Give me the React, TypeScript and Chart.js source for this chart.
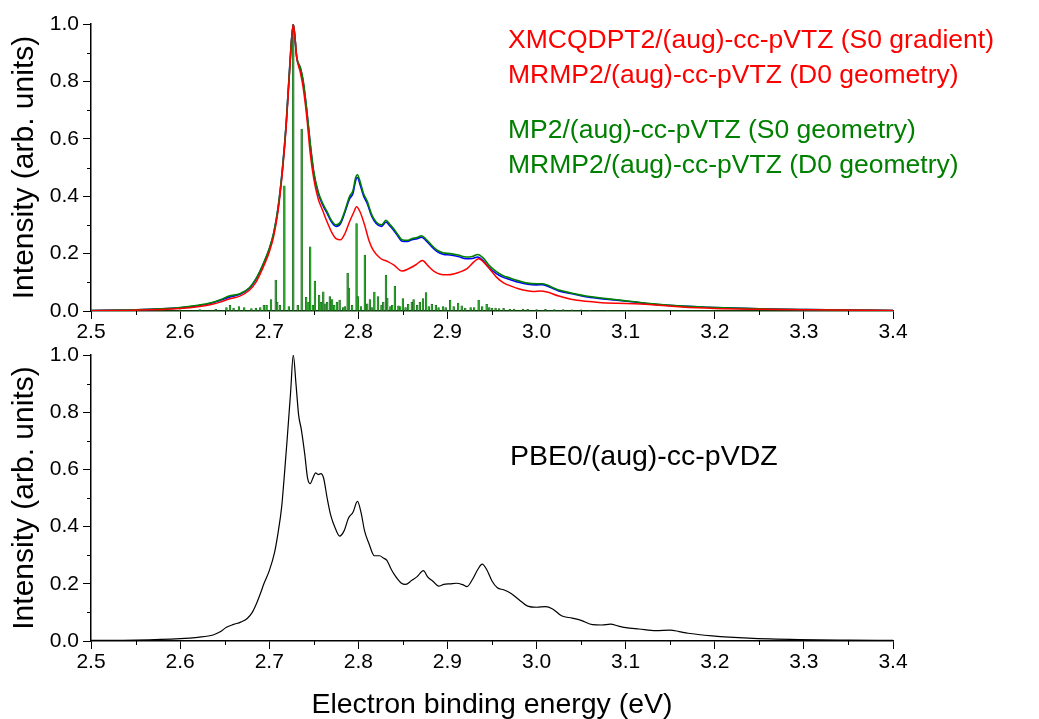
import React, { useEffect, useRef } from "react";
import { Chart, registerables } from "chart.js";

Chart.register(...registerables);

// ---------- data ----------
const X_TICKS = [2.5, 2.6, 2.7, 2.8, 2.9, 3.0, 3.1, 3.2, 3.3, 3.4];
const X_MINOR = [2.55, 2.65, 2.75, 2.85, 2.95, 3.05, 3.15, 3.25, 3.35];
const Y_TICKS = [0.0, 0.2, 0.4, 0.6, 0.8, 1.0];
const Y_MINOR = [0.1, 0.3, 0.5, 0.7, 0.9];

const BLUE_E = [2.5, 2.55, 2.6, 2.62, 2.635, 2.645, 2.655, 2.667, 2.678, 2.685, 2.69, 2.695, 2.7, 2.705, 2.71, 2.715, 2.719, 2.723, 2.727, 2.731, 2.735, 2.738, 2.742, 2.746, 2.75, 2.755, 2.76, 2.765, 2.77, 2.775, 2.78, 2.785, 2.79, 2.794, 2.797, 2.799, 2.802, 2.806, 2.81, 2.815, 2.82, 2.826, 2.831, 2.835, 2.84, 2.845, 2.849, 2.855, 2.86, 2.866, 2.871, 2.876, 2.882, 2.888, 2.895, 2.903, 2.912, 2.921, 2.928, 2.934, 2.94, 2.947, 2.955, 2.962, 2.97, 2.98, 2.99, 3.0, 3.007, 3.015, 3.025, 3.04, 3.055, 3.07, 3.09, 3.107, 3.13, 3.163, 3.19, 3.22, 3.26, 3.3, 3.35, 3.4];
const BLUE_I = [0.002, 0.004, 0.011, 0.018, 0.027, 0.037, 0.048, 0.058, 0.08, 0.11, 0.14, 0.175, 0.215, 0.27, 0.36, 0.5, 0.65, 0.85, 1.0, 0.88, 0.845, 0.8, 0.7, 0.58, 0.48, 0.41, 0.37, 0.34, 0.31, 0.295, 0.305, 0.345, 0.39, 0.41, 0.455, 0.465, 0.44, 0.4, 0.375, 0.33, 0.305, 0.295, 0.31, 0.298, 0.28, 0.258, 0.243, 0.242, 0.248, 0.252, 0.257, 0.245, 0.225, 0.208, 0.198, 0.195, 0.19, 0.182, 0.183, 0.188, 0.175, 0.15, 0.13, 0.118, 0.11, 0.1, 0.093, 0.091, 0.092, 0.083, 0.07, 0.06, 0.05, 0.044, 0.038, 0.032, 0.024, 0.017, 0.013, 0.01, 0.007, 0.005, 0.003, 0.002];

const GREEN_E = [2.5, 2.55, 2.6, 2.62, 2.635, 2.645, 2.655, 2.667, 2.678, 2.685, 2.69, 2.695, 2.7, 2.705, 2.71, 2.715, 2.719, 2.723, 2.727, 2.731, 2.735, 2.738, 2.742, 2.746, 2.75, 2.755, 2.76, 2.765, 2.77, 2.775, 2.78, 2.785, 2.79, 2.794, 2.797, 2.799, 2.802, 2.806, 2.81, 2.815, 2.82, 2.826, 2.831, 2.835, 2.84, 2.845, 2.849, 2.855, 2.86, 2.866, 2.871, 2.876, 2.882, 2.888, 2.895, 2.903, 2.912, 2.921, 2.928, 2.934, 2.94, 2.947, 2.955, 2.962, 2.97, 2.98, 2.99, 3.0, 3.007, 3.015, 3.025, 3.04, 3.055, 3.07, 3.09, 3.107, 3.13, 3.163, 3.19, 3.22, 3.26, 3.3, 3.35, 3.4];
const GREEN_I = [0.002, 0.004, 0.012, 0.02, 0.029, 0.039, 0.052, 0.06, 0.082, 0.112, 0.142, 0.177, 0.217, 0.272, 0.362, 0.502, 0.652, 0.852, 1.0, 0.882, 0.848, 0.805, 0.705, 0.585, 0.485, 0.415, 0.375, 0.345, 0.315, 0.3, 0.31, 0.35, 0.398, 0.42, 0.465, 0.475, 0.45, 0.408, 0.382, 0.336, 0.31, 0.3, 0.316, 0.303, 0.285, 0.263, 0.248, 0.246, 0.252, 0.256, 0.262, 0.25, 0.23, 0.213, 0.203, 0.2, 0.195, 0.188, 0.19, 0.197, 0.185, 0.158, 0.137, 0.124, 0.115, 0.105, 0.097, 0.095, 0.095, 0.086, 0.073, 0.062, 0.052, 0.046, 0.039, 0.033, 0.025, 0.017, 0.013, 0.01, 0.007, 0.005, 0.003, 0.002];

const RED_E = [2.5, 2.55, 2.6, 2.62, 2.635, 2.645, 2.655, 2.667, 2.678, 2.685, 2.69, 2.695, 2.7, 2.705, 2.71, 2.715, 2.719, 2.723, 2.727, 2.731, 2.735, 2.738, 2.742, 2.746, 2.75, 2.755, 2.76, 2.765, 2.77, 2.775, 2.78, 2.785, 2.79, 2.795, 2.798, 2.802, 2.807, 2.812, 2.817, 2.825, 2.833, 2.84, 2.849, 2.857, 2.865, 2.872, 2.878, 2.885, 2.892, 2.9, 2.908, 2.915, 2.922, 2.93, 2.935, 2.94, 2.947, 2.955, 2.963, 2.973, 2.985, 2.996, 3.005, 3.012, 3.025, 3.04, 3.055, 3.07, 3.09, 3.11, 3.13, 3.163, 3.2, 3.25, 3.3, 3.4];
const RED_I = [0.001, 0.003, 0.009, 0.015, 0.023, 0.031, 0.042, 0.052, 0.073, 0.1, 0.13, 0.165, 0.205, 0.26, 0.35, 0.49, 0.64, 0.84, 1.0, 0.88, 0.83, 0.78, 0.68, 0.55, 0.46, 0.39, 0.35, 0.31, 0.275, 0.252, 0.248, 0.27, 0.31, 0.345, 0.363, 0.345, 0.3, 0.245, 0.21, 0.183, 0.172, 0.16, 0.139, 0.148, 0.162, 0.176, 0.158, 0.138, 0.128, 0.126, 0.13, 0.137, 0.148, 0.172, 0.182, 0.172, 0.148, 0.118, 0.098, 0.085, 0.073, 0.068, 0.07, 0.066, 0.052, 0.04, 0.034, 0.03, 0.027, 0.025, 0.022, 0.014, 0.009, 0.006, 0.004, 0.002];

const STICK_E = [2.6, 2.622, 2.64, 2.652, 2.656, 2.66, 2.666, 2.672, 2.68, 2.685, 2.69, 2.694, 2.697, 2.702, 2.7073, 2.709, 2.712, 2.717, 2.722, 2.727, 2.732, 2.7364, 2.7415, 2.744, 2.746, 2.749, 2.7513, 2.756, 2.758, 2.7607, 2.763, 2.765, 2.768, 2.7705, 2.773, 2.776, 2.779, 2.783, 2.785, 2.788, 2.7895, 2.793, 2.798, 2.7995, 2.803, 2.8073, 2.81, 2.813, 2.815, 2.818, 2.822, 2.826, 2.828, 2.831, 2.8325, 2.836, 2.838, 2.841, 2.845, 2.847, 2.85, 2.853, 2.856, 2.86, 2.862, 2.866, 2.869, 2.8725, 2.876, 2.879, 2.8825, 2.887, 2.89, 2.895, 2.898, 2.903, 2.907, 2.912, 2.916, 2.92, 2.926, 2.93, 2.935, 2.939, 2.944, 2.947, 2.95, 2.954, 2.958, 2.963, 2.97, 2.975, 2.985, 2.99, 3.0, 3.01, 3.02, 3.03, 3.04, 3.05, 3.06, 3.08, 3.1];
const STICK_I = [0.004, 0.005, 0.006, 0.012, 0.02, 0.01, 0.015, 0.012, 0.008, 0.01, 0.012, 0.02, 0.02, 0.04, 0.108, 0.03, 0.02, 0.436, 0.015, 0.99, 0.02, 0.634, 0.048, 0.03, 0.224, 0.02, 0.104, 0.055, 0.03, 0.067, 0.025, 0.03, 0.05, 0.04, 0.02, 0.03, 0.038, 0.012, 0.015, 0.131, 0.08, 0.02, 0.305, 0.05, 0.015, 0.195, 0.025, 0.04, 0.012, 0.066, 0.05, 0.02, 0.03, 0.125, 0.045, 0.015, 0.02, 0.086, 0.018, 0.015, 0.043, 0.012, 0.023, 0.03, 0.04, 0.02, 0.03, 0.043, 0.064, 0.015, 0.023, 0.02, 0.012, 0.015, 0.012, 0.037, 0.015, 0.028, 0.018, 0.01, 0.012, 0.012, 0.037, 0.015, 0.023, 0.012, 0.01, 0.01, 0.008, 0.009, 0.006, 0.007, 0.007, 0.006, 0.005, 0.006, 0.005, 0.005, 0.004, 0.004, 0.003, 0.003, 0.002];

const PBE0_E = [2.5, 2.55, 2.6, 2.62, 2.637, 2.645, 2.652, 2.66, 2.668, 2.675, 2.681, 2.686, 2.69, 2.694, 2.7, 2.706, 2.71, 2.714, 2.717, 2.72, 2.724, 2.727, 2.73, 2.733, 2.736, 2.74, 2.743, 2.746, 2.749, 2.752, 2.755, 2.758, 2.761, 2.765, 2.769, 2.774, 2.779, 2.784, 2.789, 2.794, 2.799, 2.803, 2.807, 2.812, 2.818, 2.824, 2.828, 2.832, 2.837, 2.842, 2.848, 2.853, 2.86, 2.866, 2.873, 2.878, 2.884, 2.89, 2.896, 2.903, 2.91, 2.917, 2.922, 2.928, 2.934, 2.939, 2.944, 2.95, 2.956, 2.963, 2.971, 2.98, 2.99, 3.0, 3.01, 3.018, 3.028, 3.04, 3.05, 3.063, 3.073, 3.083, 3.092, 3.1, 3.115, 3.134, 3.15, 3.16, 3.17, 3.197, 3.238, 3.294, 3.35, 3.4];
const PBE0_I = [0.002, 0.003, 0.008, 0.013, 0.021, 0.032, 0.048, 0.058, 0.066, 0.078, 0.1, 0.133, 0.165, 0.2, 0.245, 0.31, 0.38, 0.47, 0.58, 0.7, 0.87, 1.0, 0.9, 0.79, 0.74, 0.65, 0.57, 0.55, 0.57, 0.588, 0.582, 0.585, 0.57, 0.5, 0.44, 0.395, 0.367, 0.385, 0.43, 0.45, 0.488, 0.45, 0.385, 0.34, 0.298, 0.298, 0.29, 0.282, 0.25, 0.225, 0.203, 0.198, 0.212, 0.225, 0.246, 0.223, 0.208, 0.192, 0.198, 0.2, 0.202, 0.197, 0.19, 0.215, 0.25, 0.269, 0.25, 0.21, 0.186, 0.179, 0.167, 0.145, 0.122, 0.118, 0.12, 0.112, 0.088, 0.08, 0.072, 0.057, 0.056, 0.059, 0.052, 0.047, 0.042, 0.036, 0.038, 0.033, 0.027, 0.018, 0.01, 0.005, 0.003, 0.002];

// ---------- styling ----------
const FONT = "'Liberation Sans', Arial, sans-serif";
const W = 1039;
const PLOT_LEFT = 91;
const PLOT_RIGHT = 893;

const pts = (xs: number[], ys: number[]) => xs.map((x, i) => ({ x, y: ys[i] }));

const minorTicks = {
  id: "minorTicks",
  afterDraw(chart: any) {
    const { ctx, scales } = chart;
    const x = scales.x;
    const y = scales.y;
    ctx.save();
    ctx.strokeStyle = "#000";
    ctx.lineWidth = 1;
    ctx.beginPath();
    X_MINOR.forEach((v) => {
      const px = Math.round(x.getPixelForValue(v)) + 0.5;
      ctx.moveTo(px, x.top);
      ctx.lineTo(px, x.top + 4);
    });
    Y_MINOR.forEach((v) => {
      const py = Math.round(y.getPixelForValue(v)) + 0.5;
      ctx.moveTo(y.right, py);
      ctx.lineTo(y.right - 4, py);
    });
    ctx.stroke();
    ctx.restore();
  },
};

function makeOptions(xAxisHeight: number, padTop: number, showXTitle: boolean, xBorderColor: string) {
  return {
    animation: false,
    responsive: false,
    maintainAspectRatio: false,
    layout: { padding: { top: padTop, right: W - PLOT_RIGHT, left: 0, bottom: 0 } },
    plugins: { legend: { display: false }, tooltip: { enabled: false } },
    elements: { point: { radius: 0 } },
    scales: {
      x: {
        type: "linear",
        min: 2.5,
        max: 3.4,
        offset: false,
        afterBuildTicks: (s: any) => {
          s.ticks = X_TICKS.map((v) => ({ value: v }));
        },
        afterFit: (s: any) => {
          s.height = xAxisHeight;
        },
        ticks: {
          autoSkip: false,
          maxRotation: 0,
          color: "#000",
          padding: 1,
          font: { family: FONT, size: 21 },
          callback: (v: any) => Number(v).toFixed(1),
        },
        grid: { offset: false, drawOnChartArea: false, drawTicks: true, tickLength: 8, color: "#000", tickWidth: 1 },
        border: { display: true, color: xBorderColor, width: 1.5 },
        title: {
          display: showXTitle,
          text: "Electron binding energy (eV)",
          color: "#000",
          font: { family: FONT, size: 28.5, lineHeight: 1.0 },
          padding: { top: 0, bottom: 0 },
        },
      },
      y: {
        type: "linear",
        min: 0,
        max: 1,
        afterBuildTicks: (s: any) => {
          s.ticks = Y_TICKS.map((v) => ({ value: v }));
        },
        afterFit: (s: any) => {
          s.width = PLOT_LEFT;
        },
        ticks: {
          color: "#000",
          padding: 4,
          font: { family: FONT, size: 21 },
          callback: (v: any) => Number(v).toFixed(1),
        },
        grid: { drawOnChartArea: false, drawTicks: true, tickLength: 8, color: "#000", tickWidth: 1 },
        border: { display: true, color: "#000", width: 1.5 },
        title: {
          display: true,
          text: "Intensity (arb. units)",
          color: "#000",
          font: { family: FONT, size: 30, lineHeight: 1.2 },
          padding: { top: 7, bottom: 0 },
        },
      },
    },
  };
}

const lineDs = (label: string, xs: number[], ys: number[], color: string, width: number) => ({
  type: "line",
  label,
  data: pts(xs, ys),
  borderColor: color,
  backgroundColor: color,
  borderWidth: width,
  pointRadius: 0,
  fill: false,
  cubicInterpolationMode: "monotone",
});

export default function App() {
  const topRef = useRef<HTMLCanvasElement | null>(null);
  const botRef = useRef<HTMLCanvasElement | null>(null);

  useEffect(() => {
    const top = new Chart(topRef.current as HTMLCanvasElement, {
      type: "line",
      data: {
        datasets: [
          lineDs("XMCQDPT2/(aug)-cc-pVTZ (S0 gradient)", RED_E, RED_I, "#ff0000", 1.5),
          lineDs("MP2/(aug)-cc-pVTZ (S0 geometry)", GREEN_E, GREEN_I, "#008000", 1.6),
          lineDs("MRMP2/(aug)-cc-pVTZ (D0 geometry)", BLUE_E, BLUE_I, "#0000ff", 1.6),
          {
            type: "bar",
            label: "sticks",
            data: pts(STICK_E, STICK_I),
            backgroundColor: "#2ea32e",
            borderColor: "#0f5f0f",
            borderWidth: 0.5,
            barThickness: 1.8,
          } as any,
        ] as any,
      },
      options: makeOptions(350 - 311, 24, false, "#0d3a0d") as any,
      plugins: [minorTicks],
    });
    const bot = new Chart(botRef.current as HTMLCanvasElement, {
      type: "line",
      data: {
        datasets: [lineDs("PBE0/(aug)-cc-pVDZ", PBE0_E, PBE0_I, "#000000", 1.2)] as any,
      },
      options: makeOptions(389 - 311, 25, true, "#000") as any,
      plugins: [minorTicks],
    });
    return () => {
      top.destroy();
      bot.destroy();
    };
  }, []);

  const txt = (color: string, size: number): React.CSSProperties => ({
    position: "absolute",
    color,
    fontFamily: FONT,
    fontSize: size,
    lineHeight: 1,
    whiteSpace: "nowrap",
  });

  return (
    <div style={{ position: "fixed", left: 0, top: 0, width: W, height: 719, background: "#fff", overflow: "hidden" }}>
      <canvas ref={topRef} width={W} height={350} style={{ position: "absolute", left: 0, top: 0, width: W, height: 350 }} />
      <canvas ref={botRef} width={W} height={389} style={{ position: "absolute", left: 0, top: 330, width: W, height: 389 }} />
      <div style={{ ...txt("#ff0000", 26.5), left: 508, top: 26 }}>XMCQDPT2/(aug)-cc-pVTZ (S0 gradient)</div>
      <div style={{ ...txt("#ff0000", 26.5), left: 508, top: 61 }}>MRMP2/(aug)-cc-pVTZ (D0 geometry)</div>
      <div style={{ ...txt("#008000", 26.5), left: 508, top: 116 }}>MP2/(aug)-cc-pVTZ (S0 geometry)</div>
      <div style={{ ...txt("#008000", 26.5), left: 508, top: 151 }}>MRMP2/(aug)-cc-pVTZ (D0 geometry)</div>
      <div style={{ ...txt("#000", 28.5), left: 510, top: 441 }}>PBE0/(aug)-cc-pVDZ</div>
    </div>
  );
}
